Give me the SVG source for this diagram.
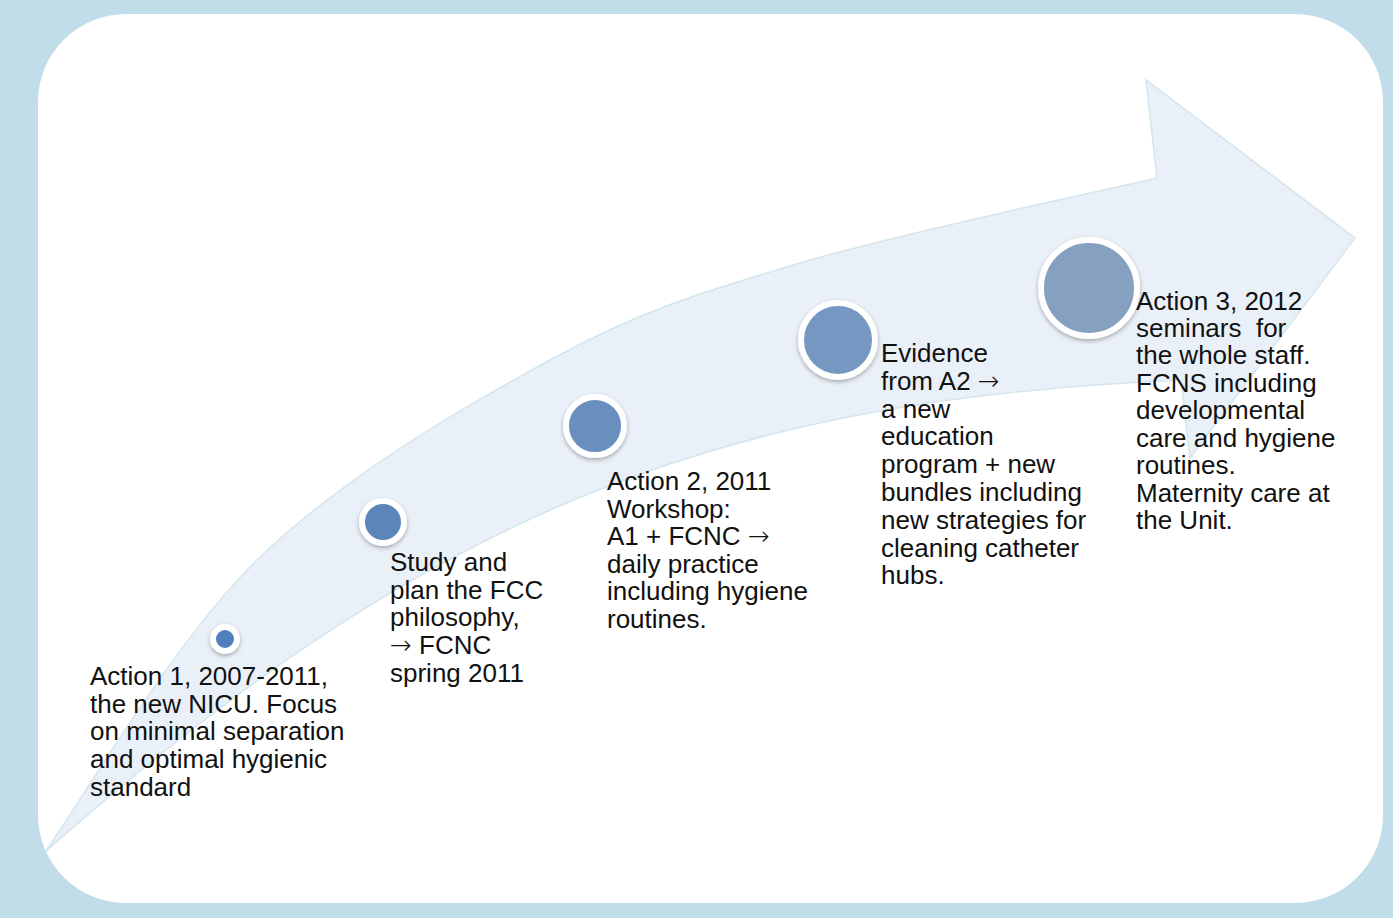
<svg xmlns="http://www.w3.org/2000/svg" width="1393" height="918" viewBox="0 0 1393 918">
  <defs>
    <style>
      .lbl { font-family: "Liberation Sans", Arial, sans-serif; font-size: 26px; fill: #111; }
      .arr { font-family: "DejaVu Sans", sans-serif; font-weight: 200; }
      .ring { stroke: #ffffff; stroke-width: 6; filter: url(#shadow); }
    </style>
    <filter id="shadow" x="-30%" y="-30%" width="160%" height="170%">
      <feDropShadow dx="0" dy="2" stdDeviation="2" flood-color="#000" flood-opacity="0.3"/>
    </filter>
    <clipPath id="panel">
      <rect x="38" y="14" width="1345" height="889" rx="88" ry="88"/>
    </clipPath>
  </defs>

  <!-- page background and white panel -->
  <rect width="1393" height="918" fill="#c0dde9"/>
  <rect x="38" y="14" width="1345" height="889" rx="88" ry="88" fill="#ffffff"/>

  <!-- rising curved arrow behind the milestones -->
  <g id="connectors" clip-path="url(#panel)">
    <path id="arrow" fill="#eaf0f7" stroke="#d3e6ee" stroke-width="1.5" stroke-linejoin="miter"
      d="M 45 852
         C 80.3 803.3 172.8 642 257 560
         C 341.2 478 459.5 409.5 550 360
         C 640.5 310.5 698.8 293.3 800 263
         C 901.2 232.7 1097.5 192.2 1157 178
         L 1146 80
         L 1355 238
         L 1190 458
         L 1181 380
         C 731 400 440 502 45 852 Z"/>
  </g>

  <!-- milestone 1 -->
  <g id="action1">
    <circle class="ring" cx="225" cy="639" r="12" fill="#4f7fbd"/>
    <text class="lbl">
      <tspan x="90" y="685">Action 1, 2007-2011,</tspan>
      <tspan x="90" y="713">the new NICU. Focus</tspan>
      <tspan x="90" y="740">on minimal separation</tspan>
      <tspan x="90" y="768">and optimal hygienic</tspan>
      <tspan x="90" y="796">standard</tspan>
    </text>
  </g>

  <!-- milestone 2 -->
  <g id="study">
    <circle class="ring" cx="383" cy="522" r="21" fill="#5b86ba"/>
    <text class="lbl">
      <tspan x="390" y="571">Study and</tspan>
      <tspan x="390" y="599">plan the FCC</tspan>
      <tspan x="390" y="626">philosophy,</tspan>
      <tspan x="390" y="654"><tspan class="arr">→</tspan> FCNC</tspan>
      <tspan x="390" y="682">spring 2011</tspan>
    </text>
  </g>

  <!-- milestone 3 -->
  <g id="action2">
    <circle class="ring" cx="595" cy="426" r="29" fill="#688fbd"/>
    <text class="lbl">
      <tspan x="607" y="490">Action 2, 2011</tspan>
      <tspan x="607" y="518">Workshop:</tspan>
      <tspan x="607" y="545">A1 + FCNC <tspan class="arr">→</tspan></tspan>
      <tspan x="607" y="573">daily practice</tspan>
      <tspan x="607" y="600">including hygiene</tspan>
      <tspan x="607" y="628">routines.</tspan>
    </text>
  </g>

  <!-- milestone 4 -->
  <g id="evidence">
    <circle class="ring" cx="838" cy="340" r="37" fill="#7597c2"/>
    <text class="lbl">
      <tspan x="881" y="362">Evidence</tspan>
      <tspan x="881" y="390">from A2 <tspan class="arr">→</tspan></tspan>
      <tspan x="881" y="418">a new</tspan>
      <tspan x="881" y="445">education</tspan>
      <tspan x="881" y="473">program + new</tspan>
      <tspan x="881" y="501">bundles including</tspan>
      <tspan x="881" y="529">new strategies for</tspan>
      <tspan x="881" y="557">cleaning catheter</tspan>
      <tspan x="881" y="584">hubs.</tspan>
    </text>
  </g>

  <!-- milestone 5 -->
  <g id="action3">
    <circle class="ring" cx="1089" cy="288" r="48" fill="#85a0c1"/>
    <text class="lbl" xml:space="preserve">
      <tspan x="1136" y="310">Action 3, 2012</tspan>
      <tspan x="1136" y="337">seminars  for</tspan>
      <tspan x="1136" y="364">the whole staff.</tspan>
      <tspan x="1136" y="392">FCNS including</tspan>
      <tspan x="1136" y="419">developmental</tspan>
      <tspan x="1136" y="447">care and hygiene</tspan>
      <tspan x="1136" y="474">routines.</tspan>
      <tspan x="1136" y="502">Maternity care at</tspan>
      <tspan x="1136" y="529">the Unit.</tspan>
    </text>
  </g>
</svg>
